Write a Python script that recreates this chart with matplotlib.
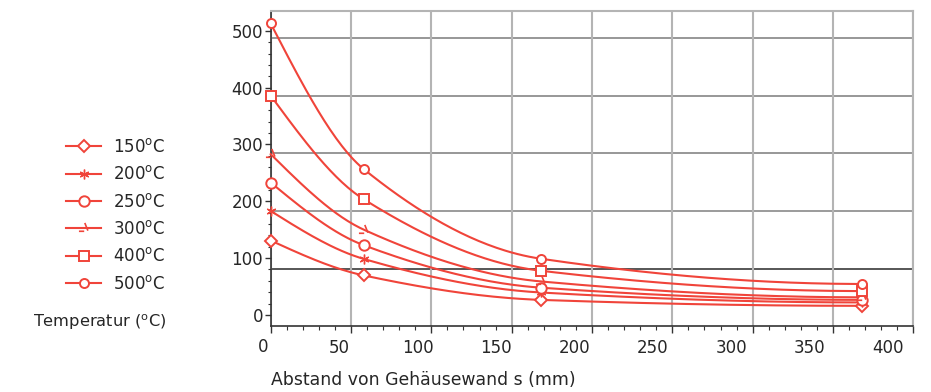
import numpy as np
import matplotlib
matplotlib.use("Agg")
import matplotlib.pyplot as plt
from matplotlib.path import Path
from matplotlib.transforms import blended_transform_factory

# ---- data ----
distance_mm = [0, 58, 168, 368]
temps = ["150", "200", "250", "300", "400", "500"]
t150 = [131, 69.5, 26.5, 16]
t200 = [183, 98.5, 39.5, 22]
t250 = [233, 122.6, 48, 26.5]
t300 = [283, 150, 59, 31]
t400 = [386, 203.4, 77.8, 42]
t500 = [513, 256.5, 99, 54.5]
series = [t150, t200, t250, t300, t400, t500]

x_ticks = list(range(0, 401, 50))
y_ticks = list(range(0, 501, 100))
hgrid_levels = [487, 386, 285, 183, 81]
hgrid_colors = ["#858585", "#858585", "#858585", "#8a8a8a", "#3a3a3a"]

RED = "#F0443A"
TXT = "#262626"

def pchip(x, y, n=200):
    x = np.asarray(x, float); y = np.asarray(y, float)
    h = np.diff(x); d = np.diff(y) / h
    m = np.zeros_like(y)
    for k in range(1, len(x) - 1):
        if d[k - 1] * d[k] > 0:
            w1 = 2 * h[k] + h[k - 1]; w2 = h[k] + 2 * h[k - 1]
            m[k] = (w1 + w2) / (w1 / d[k - 1] + w2 / d[k])
    def end(h0, h1, d0, d1):
        v = ((2 * h0 + h1) * d0 - h0 * d1) / (h0 + h1)
        if np.sign(v) != np.sign(d0):
            v = 0
        elif np.sign(d0) != np.sign(d1) and abs(v) > abs(3 * d0):
            v = 3 * d0
        return v
    m[0] = end(h[0], h[1], d[0], d[1])
    m[-1] = end(h[-1], h[-2], d[-1], d[-2])
    xs = np.linspace(x[0], x[-1], n)
    idx = np.clip(np.searchsorted(x, xs) - 1, 0, len(x) - 2)
    t = (xs - x[idx]) / h[idx]
    h00 = 2 * t**3 - 3 * t**2 + 1; h10 = t**3 - 2 * t**2 + t
    h01 = -2 * t**3 + 3 * t**2; h11 = t**3 - t**2
    ys = h00 * y[idx] + h10 * h[idx] * m[idx] + h01 * y[idx + 1] + h11 * h[idx] * m[idx + 1]
    return xs, ys

odd_marker = Path([(-0.9, -0.45), (-0.05, -0.45), (0.05, 0.9), (0.55, -0.35)],
                  [Path.MOVETO, Path.LINETO, Path.MOVETO, Path.LINETO])
markers = [("D", 6.0, 1.4), ((6, 2, 0), 7.0, 1.0), ("o", 7.5, 1.4),
           (odd_marker, 8, 1.2), ("s", 7.5, 1.4), ("o", 6.5, 1.4)]

plt.rcParams['font.family'] = ['DejaVu Sans']
plt.rcParams['mathtext.fontset'] = 'dejavusans'

fig = plt.figure(figsize=(9.31, 3.92), dpi=100)
ax = fig.add_axes([270.7 / 931, 1 - 326 / 392, (913.3 - 270.7) / 931, (326 - 11) / 392])

handles = []
for vals, (mk, ms, mw), t in zip(series, markers, temps):
    xs, ys = pchip(distance_mm, vals)
    ax.plot(xs, ys, color=RED, lw=1.5, zorder=3, clip_on=False)
    ax.plot(distance_mm, vals, ls="none", marker=mk, ms=ms, mfc="white", mec=RED,
            mew=mw, zorder=4, clip_on=False)
    h, = ax.plot([], [], color=RED, lw=1.5, marker=mk, ms=ms, mfc="white", mec=RED, mew=mw,
                 label=t + r"$^{\mathrm{o}}$C")
    handles.append(h)

ax.set_xlim(0, 400)
ax.set_ylim(-19.5, 535)

for lvl, c in zip(hgrid_levels, hgrid_colors):
    ax.axhline(lvl, color=c, lw=1.2, zorder=1)

ax.set_xticks(x_ticks)
ax.set_xticks(np.arange(0, 401, 10), minor=True)
ax.tick_params(axis="x", which="both", labelbottom=False, direction="out", color="#333333")
ax.tick_params(axis="x", which="major", length=5, width=1)
ax.tick_params(axis="x", which="minor", length=3, width=0.8)
ax.grid(axis="x", which="major", color="#b4b4b4", lw=1.5, zorder=0)

ax.set_yticks(y_ticks)
ax.set_yticks(np.arange(0, 521, 20), minor=True)
ax.tick_params(axis="y", which="major", length=4, width=1, labelsize=12, pad=1.5,
               labelcolor=TXT, color="#333333")
ax.tick_params(axis="y", which="minor", length=2.5, width=0.8, color="#333333")

for s in ("left", "bottom"):
    ax.spines[s].set_color("#333333"); ax.spines[s].set_linewidth(1.2)
for s in ("top", "right"):
    ax.spines[s].set_color("#b4b4b4"); ax.spines[s].set_linewidth(1.5)

# x tick labels are printed slightly compressed relative to the tick marks
def fwd(x):
    return (np.asarray(x) + 6.04) / 0.9754
def inv(v):
    return np.asarray(v) * 0.9754 - 6.04
sec = ax.secondary_xaxis("bottom", functions=(fwd, inv))
sec.set_xticks(x_ticks[1:])
sec.tick_params(axis="x", length=0, labelsize=12, pad=9.5, labelcolor=TXT)
sec.spines["bottom"].set_visible(False)
sec.xaxis.set_minor_locator(matplotlib.ticker.NullLocator())
# the "0" label sits just left of the axis origin
trans = blended_transform_factory(ax.transData, ax.transAxes)
ax.text(float(inv(x_ticks[0])) + 1.5, -21 / 315, str(x_ticks[0]), transform=trans, ha="center",
        va="center", fontsize=12, color=TXT, clip_on=False)

fig.text(271 / 931, 1 - 380 / 392, "Abstand von Gehäusewand s (mm)", fontsize=12.4,
         va="center", ha="left", color=TXT)
fig.text(33 / 931, 1 - 322 / 392, r"Temperatur ($^{\mathrm{o}}$C)", fontsize=11.7,
         va="center", ha="left", color=TXT)

fig.legend(handles=handles, loc="upper left", bbox_to_anchor=(66 / 931, 1 - 138 / 392),
           frameon=False, fontsize=12, handlelength=2.1, handletextpad=0.7,
           labelspacing=0.56, borderpad=0, borderaxespad=0, labelcolor=TXT)

fig.savefig("out.png", dpi=100)
